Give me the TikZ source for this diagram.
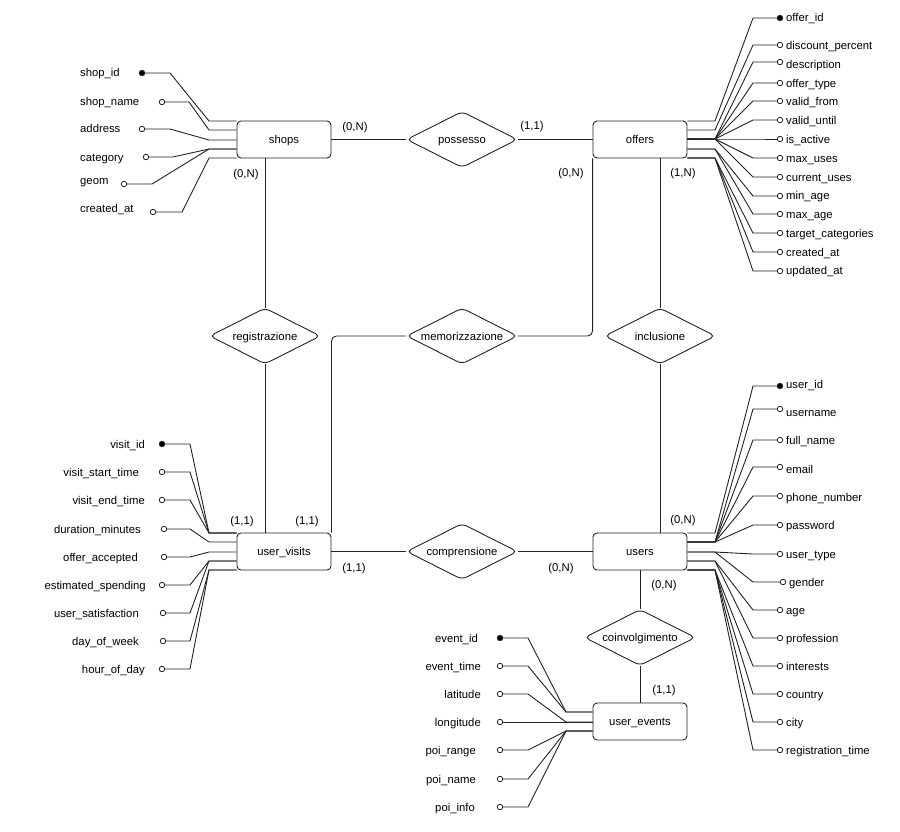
\documentclass[tikz,border=0pt]{standalone}
\usepackage{fontspec}
\setmainfont{Liberation Sans}
\usetikzlibrary{shapes.geometric}
\definecolor{linec}{RGB}{34,34,34}
\newcommand\dlab[1]{\makebox[0pt]{#1}}
\begin{document}
\begin{tikzpicture}[x=1pt,y=-1pt,
  txt/.style={font=\fontsize{11.3}{13}\selectfont, text height=8pt, text depth=0pt, inner sep=0pt},
  ent/.style={txt, draw=linec, line width=0.9pt, rounded corners=4pt, minimum width=94pt, minimum height=37pt, fill=white},
  rel/.style={txt, draw=linec, line width=0.9pt, diamond, rounded corners=5pt, minimum width=111pt, minimum height=56pt, fill=white},
  pk/.style={circle, draw=linec, line width=0.8pt, fill=black, minimum size=5.5pt, inner sep=0pt},
  ak/.style={circle, draw=linec, line width=0.8pt, fill=white, minimum size=5.5pt, inner sep=0pt},
  conn/.style={draw=linec, line width=0.9pt},
  card/.style={txt}]
\path[use as bounding box] (0,0) rectangle (900,831);

% entities
\node[ent] (shops) at (284,139.5) {shops};
\node[ent] (offers) at (640,139.5) {offers};
\node[ent] (uvisits) at (284,551.5) {user\_visits};
\node[ent] (users) at (640,551.5) {users};
\node[ent] (uevents) at (640,721.5) {user\_events};

% relationships
\node[rel] (possesso) at (462,139.5) {\dlab{possesso}};
\node[rel] (registrazione) at (265,336) {\dlab{registrazione}};
\node[rel] (memorizzazione) at (462,336) {\dlab{memorizzazione}};
\node[rel] (inclusione) at (660,336) {\dlab{inclusione}};
\node[rel] (comprensione) at (462,551.5) {\dlab{comprensione}};
\node[rel] (coinvolgimento) at (640,637.5) {\dlab{coinvolgimento}};

% relationship connectors
\draw[conn] (shops.east) -- (possesso.west);
\draw[conn] (possesso.east) -- (offers.west);
\draw[conn] (shops.south -| registrazione.north) -- (registrazione.north);
\draw[conn] (registrazione.south) -- (uvisits.north -| registrazione.south);
\draw[conn] (offers.south -| inclusione.north) -- (inclusione.north);
\draw[conn] (inclusione.south) -- (users.north -| inclusione.south);
\draw[conn, rounded corners=5pt] (uvisits.north east) |- (memorizzazione.west);
\draw[conn, rounded corners=5pt] (memorizzazione.east) -| (offers.south west);
\draw[conn] (uvisits.east) -- (comprensione.west);
\draw[conn] (comprensione.east) -- (users.west);
\draw[conn] (users.south) -- (coinvolgimento.north);
\draw[conn] (coinvolgimento.south) -- (uevents.north);

% cardinalities
\node[card] (c1) at (355,126) {(0,N)};
\node[card] (c2) at (532,125) {(1,1)};
\node[card] (c3) at (246,173) {(0,N)};
\node[card] (c4) at (571,172) {(0,N)};
\node[card] (c5) at (683,172) {(1,N)};
\node[card] (c6) at (242,520) {(1,1)};
\node[card] (c7) at (307,520) {(1,1)};
\node[card] (c8) at (354,567) {(1,1)};
\node[card] (c9) at (561,567) {(0,N)};
\node[card] (c10) at (683,519) {(0,N)};
\node[card] (c11) at (664,584) {(0,N)};
\node[card] (c12) at (664,689) {(1,1)};

% shops attributes
\foreach \aN/\aL/\aTY/\aCX/\aCY/\aBX/\aBY/\aS in {
  s1/shop\_id/72/142/73/170/121/pk,
  s2/shop\_name/101/162/102/189/130/ak,
  s3/address/128/142/129/170/140/ak,
  s4/category/157/146/157/173/149/ak,
  s5/geom/180/124/184/152/149/ak,
  s6/created\_at/208/153/212/182/158/ak}{
  \node[txt, anchor=west] (\aN-t) at (80,\aTY) {\aL};
  \node[\aS] (\aN-c) at (\aCX,\aCY) {};
  \draw[conn] (\aN-c.east) -- (\aBX,\aCY) -- (209,\aBY) -- (shops.west |- 0,\aBY);
}

% offers attributes
\foreach \aN/\aL/\aTY/\aCY/\aBY/\aS in {
  o1/offer\_id/17/18/121/pk,
  o2/discount\_percent/45/45/130/ak,
  o3/description/64/62/139/ak,
  o4/offer\_type/83/83/139/ak,
  o5/valid\_from/101/101/139/ak,
  o6/valid\_until/120/120/139/ak,
  o7/is\_active/139/139/139/ak,
  o8/max\_uses/158/158/139/ak,
  o9/current\_uses/177/177/139/ak,
  o10/min\_age/195/196/149/ak,
  o11/max\_age/214/214/149/ak,
  o12/target\_categories/233/233/158/ak,
  o13/created\_at/252/252/158/ak,
  o14/updated\_at/270/271/158/ak}{
  \node[txt, anchor=west] (\aN-t) at (786,\aTY) {\aL};
  \node[\aS] (\aN-c) at (780,\aCY) {};
  \draw[conn] (\aN-c.west) -- (753,\aCY) -- (715,\aBY) -- (offers.east |- 0,\aBY);
}

% users attributes
\foreach \aN/\aL/\aTX/\aTY/\aCX/\aCY/\aBY/\aS in {
  u1/user\_id/786/384/780/386/533/pk,
  u2/username/786/412/780/409/542/ak,
  u3/full\_name/786/440/780/440/542/ak,
  u4/email/786/469/780/467/542/ak,
  u5/phone\_number/786/497/780/496/542/ak,
  u6/password/786/525/780/525/542/ak,
  u7/user\_type/786/554/780/554/552/ak,
  u8/gender/789/582/783/582/552/ak,
  u9/age/786/610/780/610/561/ak,
  u10/profession/786/638/780/638/561/ak,
  u11/interests/786/666/780/666/570/ak,
  u12/country/786/694/780/694/570/ak,
  u13/city/786/722/780/722/570/ak,
  u14/registration\_time/786/750/780/750/570/ak}{
  \node[txt, anchor=west] (\aN-t) at (\aTX,\aTY) {\aL};
  \node[\aS] (\aN-c) at (\aCX,\aCY) {};
  \draw[conn] (\aN-c.west) -- (753,\aCY) -- (715,\aBY) -- (users.east |- 0,\aBY);
}

% user_visits attributes
\foreach \aN/\aL/\aTX/\aTY/\aCX/\aBY/\aS in {
  v1/visit\_id/145/444/162/533/pk,
  v2/visit\_start\_time/139/472/162/533/ak,
  v3/visit\_end\_time/145/500/162/533/ak,
  v4/duration\_minutes/141/529/164/542/ak,
  v5/offer\_accepted/138/557/164/552/ak,
  v6/estimated\_spending/146/585/162/561/ak,
  v7/user\_satisfaction/139/613/163/561/ak,
  v8/day\_of\_week/139/641/163/570/ak,
  v9/hour\_of\_day/145/669/162/570/ak}{
  \node[txt, anchor=east] (\aN-t) at (\aTX,\aTY) {\aL};
  \node[\aS] (\aN-c) at (\aCX,\aTY) {};
  \draw[conn] (\aN-c.east) -- (190,\aTY) -- (209,\aBY) -- (uvisits.west |- 0,\aBY);
}

% user_events attributes
\foreach \aN/\aL/\aTX/\aTY/\aBY/\aS in {
  e1/event\_id/478/638/712/pk,
  e2/event\_time/481/666/712/ak,
  e3/latitude/481/694/722/ak,
  e4/longitude/481/722/722/ak,
  e5/poi\_range/476/750/731/ak,
  e6/poi\_name/476/779/731/ak,
  e7/poi\_info/475/807/731/ak}{
  \node[txt, anchor=east] (\aN-t) at (\aTX,\aTY) {\aL};
  \node[\aS] (\aN-c) at (500,\aTY) {};
  \draw[conn] (\aN-c.east) -- (528,\aTY) -- (566,\aBY) -- (uevents.west |- 0,\aBY);
}
\end{tikzpicture}
\end{document}
